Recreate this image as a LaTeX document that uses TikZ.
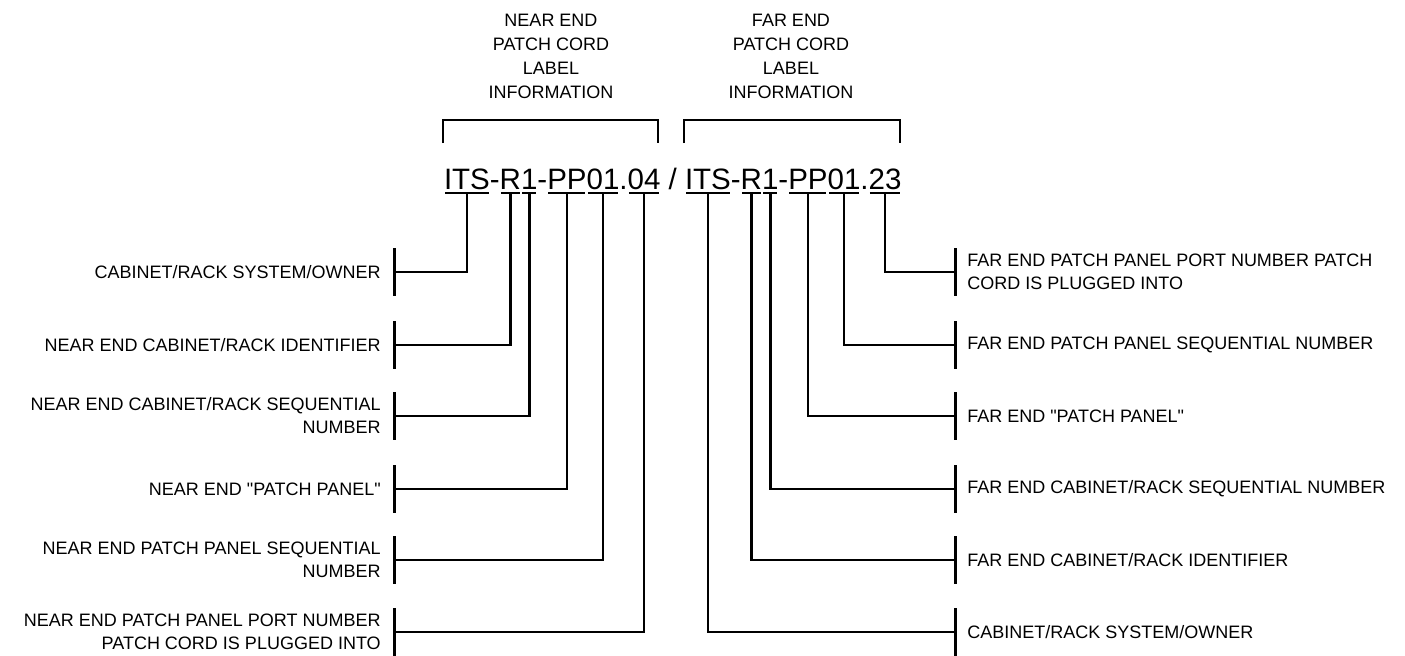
\documentclass[tikz,border=0pt]{standalone}
\usepackage{fontspec}
\setmainfont{Liberation Sans}
\usetikzlibrary{positioning}

\begin{document}
\begin{tikzpicture}[x=0.5pt, y=-0.5pt, line width=1.3pt,
    hdr/.style={align=center, inner sep=0pt, font=\fontsize{9}{12}\selectfont},
    lbl/.style={inner sep=0pt, font=\fontsize{9}{11.5}\selectfont},
    seg/.style={anchor=base west, inner sep=0pt, outer sep=0pt, font=\fontsize{14.75}{18}\selectfont},
    uline/.style={line width=1pt, shorten <=0.6pt, shorten >=0.6pt},
    tick/.style={line width=1.5pt}]
    \useasboundingbox (0,0) rectangle (1405,655);
    \node[hdr] (nearhdr) at (551,56) {NEAR END\\PATCH CORD\\LABEL\\INFORMATION};
    \node[hdr] (farhdr) at (791,56) {FAR END\\PATCH CORD\\LABEL\\INFORMATION};
    \draw (443,143) |- (658,120) -- (658,143);
    \draw (684,143) |- (900,120) -- (900,143);
    \node[seg] (its1) at (444,189) {ITS};
    \node[seg] (h1) at (its1.base east) {-};
    \node[seg] (r1) at (h1.base east) {R};
    \node[seg] (n1) at (r1.base east) {1};
    \node[seg] (h2) at (n1.base east) {-};
    \node[seg] (pp1) at (h2.base east) {PP};
    \node[seg] (s1) at (pp1.base east) {01};
    \node[seg] (dot1) at (s1.base east) {.};
    \node[seg] (p1) at (dot1.base east) {04};
    \node[seg] (slash) at (p1.base east) {\ /\ \mbox{}};
    \node[seg] (its2) at (slash.base east) {ITS};
    \node[seg] (h3) at (its2.base east) {-};
    \node[seg] (r2) at (h3.base east) {R};
    \node[seg] (n2) at (r2.base east) {1};
    \node[seg] (h4) at (n2.base east) {-};
    \node[seg] (pp2) at (h4.base east) {PP};
    \node[seg] (s2) at (pp2.base east) {01};
    \node[seg] (dot2) at (s2.base east) {.};
    \node[seg] (p2) at (dot2.base east) {23};
    \foreach \s in {its1,r1,n1,pp1,s1,p1,its2,r2,n2,pp2,s2,p2}
        \draw[uline] ([yshift=-2pt]\s.south west) -- ([yshift=-2pt]\s.south east);
    \foreach \y/\s/\t [count=\i] in {
        272/its1/{CABINET/RACK SYSTEM/OWNER},
        345/r1/{NEAR END CABINET/RACK IDENTIFIER},
        416/n1/{NEAR END CABINET/RACK SEQUENTIAL\\NUMBER},
        489/pp1/{NEAR END \textquotedbl PATCH PANEL\textquotedbl},
        560/s1/{NEAR END PATCH PANEL SEQUENTIAL\\NUMBER},
        632/p1/{NEAR END PATCH PANEL PORT NUMBER\\PATCH CORD IS PLUGGED INTO}} {
        \node[lbl, anchor=east, align=right] (nl\i) at (382,\y) {\t};
        \coordinate (nt\i) at (394,\y);
        \draw[tick] ([yshift=12pt]nt\i) -- ([yshift=-12pt]nt\i);
        \draw ([yshift=-2pt]\s.south) |- (nt\i);
    }
    \foreach \y/\s/\t [count=\i] in {
        272/p2/{FAR END PATCH PANEL PORT NUMBER PATCH\\CORD IS PLUGGED INTO},
        345/s2/{FAR END PATCH PANEL SEQUENTIAL NUMBER},
        416/pp2/{FAR END \textquotedbl PATCH PANEL\textquotedbl},
        489/n2/{FAR END CABINET/RACK SEQUENTIAL NUMBER},
        560/r2/{FAR END CABINET/RACK IDENTIFIER},
        632/its2/{CABINET/RACK SYSTEM/OWNER}} {
        \node[lbl, anchor=west, align=left] (fl\i) at (966,\y) {\t};
        \coordinate (ft\i) at (955,\y);
        \draw[tick] ([yshift=12pt]ft\i) -- ([yshift=-12pt]ft\i);
        \draw ([yshift=-2pt]\s.south) |- (ft\i);
    }
\end{tikzpicture}
\end{document}
